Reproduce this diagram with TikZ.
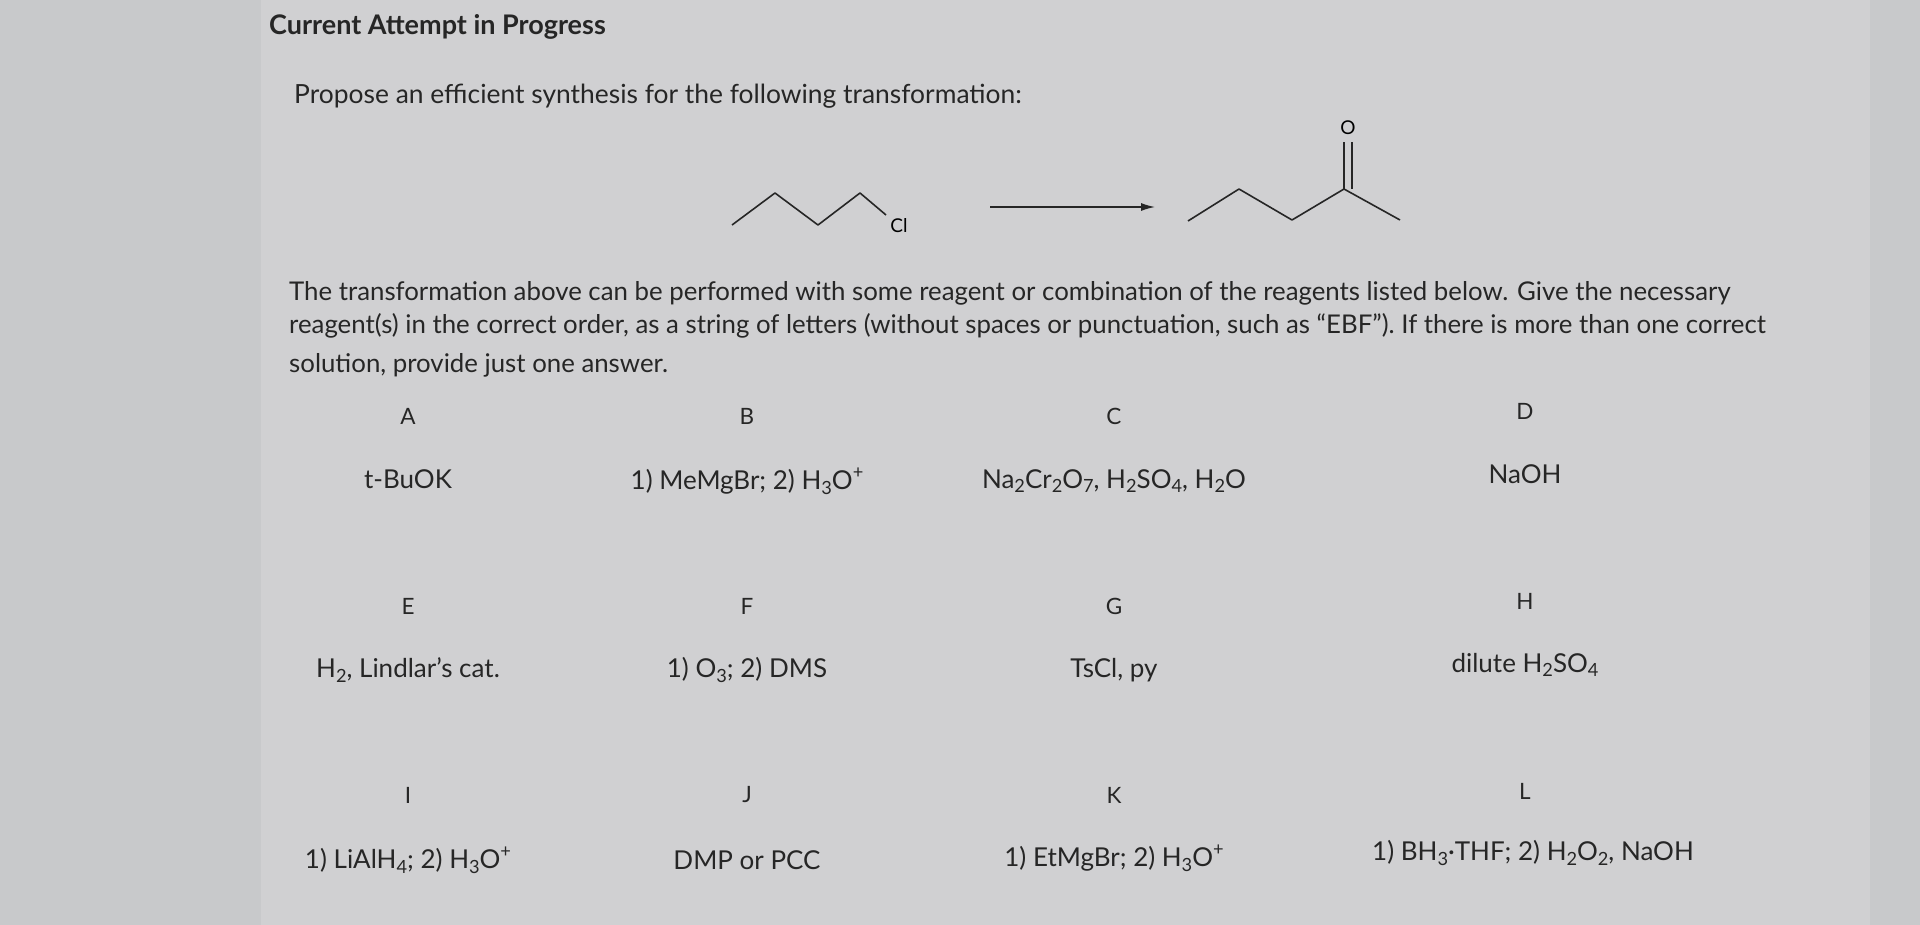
\documentclass[tikz,border=0pt]{standalone}
\usepackage{fontspec}
\setmainfont{Lato}
\usetikzlibrary{arrows.meta}
\definecolor{bgL}{HTML}{C8C9CB}
\definecolor{bgM}{HTML}{D0D0D2}
\newcommand\lsub[1]{\raisebox{-0.35ex}{\scalebox{0.7}{#1}}}
\newcommand\lsup[1]{\raisebox{0.9ex}{\scalebox{0.7}{#1}}}
\begin{document}
\begin{tikzpicture}[x=1pt,y=-1pt,
  txt/.style={anchor=west,inner sep=0,font=\fontsize{25.8}{33}\selectfont,text=black!85},
  lbl/.style={inner sep=0,font=\fontsize{22.5}{25}\selectfont,text=black!85},
  rg/.style={inner sep=0,font=\fontsize{26}{30}\selectfont,text=black!85},
  bond/.style={line width=1.6pt,black!85,line join=round}]
\fill[bgL] (0,0) rectangle (1920,925);
\fill[bgM] (261,0) rectangle (1870,925);
\useasboundingbox (0,0) rectangle (1920,925);
\node[txt,font=\bfseries\fontsize{27}{30}\selectfont] (t0) at (269,27) {Current Attempt in Progress};
\node[txt,font=\fontsize{26.4}{30}\selectfont] (t1) at (294,96) {Propose an efficient synthesis for the following transformation:};
% reactant
\draw[bond] (732,225) -- (775,193) -- (818,225) -- (860,193) -- (886,215);
\node[inner sep=0,font=\fontsize{19}{19}\selectfont] (cl) at (899,226) {Cl};
\coordinate (a1) at (990,207);
\coordinate (a2) at (1155,207);
\draw[line width=1.3pt,black!85,-{Latex[length=14pt,width=8pt]}] (a1) -- (a2);
% product
\draw[bond] (1188,221) -- (1239,189) -- (1292,220) -- (1344,189) -- (1400,220);
\draw[bond] (1344,189) -- (1344,142);
\draw[bond] (1352,189) -- (1352,142);
\node[inner sep=0,font=\fontsize{19}{19}\selectfont] (o) at (1348,128) {O};
\node[txt] (p1) at (289,293) {The transformation above can be performed with some reagent or combination of the reagents listed below. Give the necessary};
\node[txt] (p2) at (289,326) {reagent(s) in the correct order, as a string of letters (without spaces or punctuation, such as “EBF”). If there is more than one correct};
\node[txt] (p3) at (289,365) {solution, provide just one answer.};
% grid
\node[lbl] (A) at (408,416) {A};
\node[lbl] (B) at (747,416) {B};
\node[lbl] (C) at (1114,416) {C};
\node[lbl] (D) at (1525,411) {D};
\node[rg] (rA) at (408,479) {t-BuOK};
\node[rg] (rB) at (747,481) {1) MeMgBr; 2) H\lsub{3}O\lsup{+}};
\node[rg] (rC) at (1114,481) {Na\lsub{2}Cr\lsub{2}O\lsub{7}, H\lsub{2}SO\lsub{4}, H\lsub{2}O};
\node[rg] (rD) at (1525,474) {NaOH};
\node[lbl] (E) at (408,606) {E};
\node[lbl] (F) at (747,606) {F};
\node[lbl] (G) at (1114,606) {G};
\node[lbl] (H) at (1525,601) {H};
\node[rg] (rE) at (408,670) {H\lsub{2}, Lindlar's cat.};
\node[rg] (rF) at (747,670) {1) O\lsub{3}; 2) DMS};
\node[rg] (rG) at (1114,670) {TsCl, py};
\node[rg] (rH) at (1525,665) {dilute H\lsub{2}SO\lsub{4}};
\node[lbl] (I) at (408,795) {I};
\node[lbl] (J) at (747,795) {J};
\node[lbl] (K) at (1114,795) {K};
\node[lbl] (L) at (1525,791) {L};
\node[rg] (rI) at (408,860) {1) LiAlH\lsub{4}; 2) H\lsub{3}O\lsup{+}};
\node[rg] (rJ) at (747,860) {DMP or PCC};
\node[rg] (rK) at (1114,858) {1) EtMgBr; 2) H\lsub{3}O\lsup{+}};
\node[rg] (rL) at (1533,853) {1) BH\lsub{3}·THF; 2) H\lsub{2}O\lsub{2}, NaOH};
\end{tikzpicture}
\end{document}
